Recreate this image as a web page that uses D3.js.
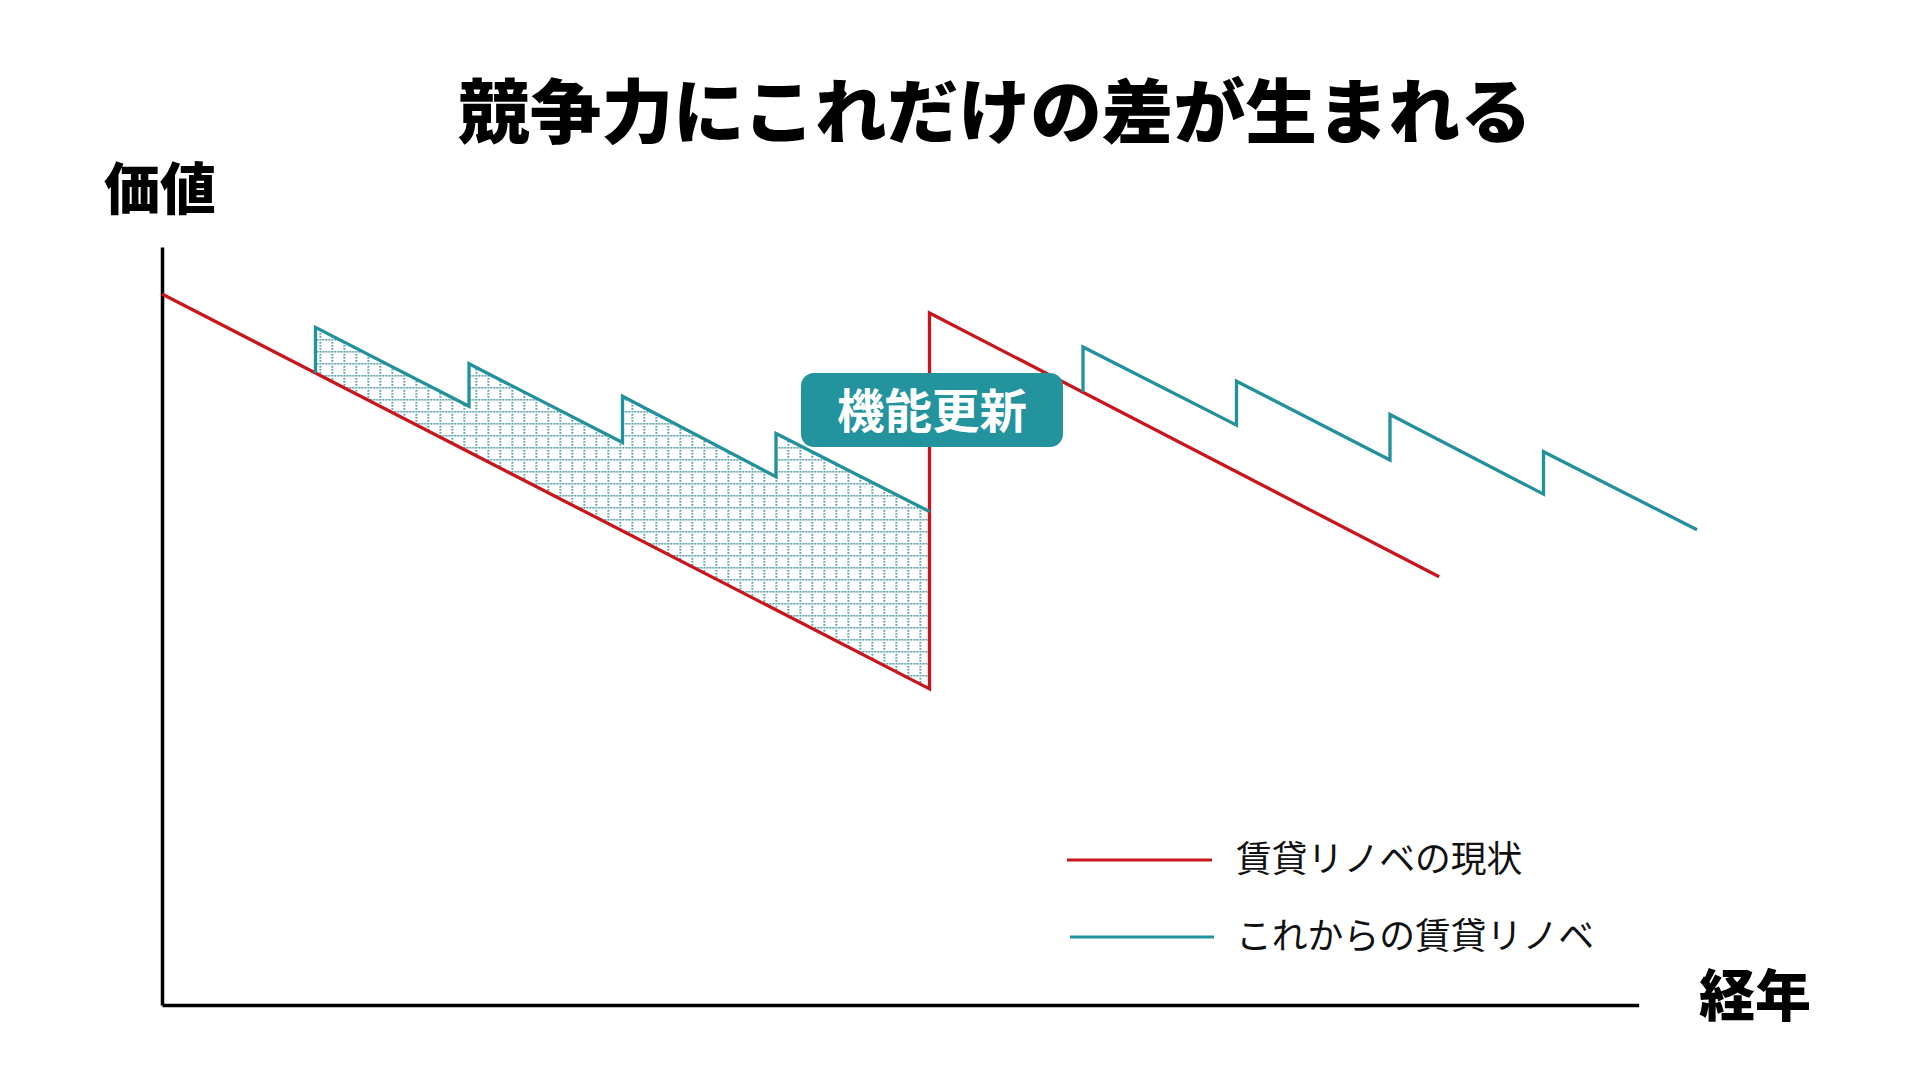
<!DOCTYPE html>
<html lang="ja">
<head>
<meta charset="utf-8">
<script src="https://cdn.jsdelivr.net/npm/d3@7"></script>
<style>
  html, body { margin: 0; padding: 0; background: #ffffff; }
  svg { display: block; }
  text { font-family: "Noto Sans CJK JP", "Noto Sans", sans-serif; }
</style>
</head>
<body>
<svg id="chart" width="1910" height="1066"></svg>
<script>
// ---- data (years vs. value index) ----
const titleText = "競争力にこれだけの差が生まれる";
const yLabel = "価値";
const xLabel = "経年";
const calloutText = "機能更新";
const seriesNames = ["賃貸リノベの現状", "これからの賃貸リノベ"];
const seriesColors = ["#c8161d", "#22919b"];

// 賃貸リノベの現状 (red)
const redX = [0, 25, 25, 41.6];
const redY = [93.8, 41.7, 91.3, 56.5];

// これからの賃貸リノベ (teal), two saw-tooth runs
const tealLeftX = [5, 5, 10, 10, 15, 15, 20, 20, 25];
const tealLeftY = [83.4, 89.4, 79.0, 84.6, 74.2, 80.3, 69.7, 75.4, 65.1];
const tealRightX = [30, 30, 35, 35, 40, 40, 45, 45, 50];
const tealRightY = [80.9, 86.8, 76.5, 82.3, 71.9, 77.9, 67.4, 73.0, 62.7];

// axis extents
const xDomain = [0, 50];
const yDomain = [0, 100];
const xAxisEnd = 48.1;

// ---- drawing ----
const svg = d3.select("#chart");
const x = d3.scaleLinear().domain(xDomain).range([162, 1697]);
const y = d3.scaleLinear().domain(yDomain).range([1005, 247]);

const zip = (xs, ys) => xs.map((v, i) => ({ x: v, y: ys[i] }));
const red = zip(redX, redY);
const tealL = zip(tealLeftX, tealLeftY);
const tealR = zip(tealRightX, tealRightY);

const line = d3.line().x(d => x(d.x)).y(d => y(d.y));

// dotted grid pattern
const defs = svg.append("defs");
const pat = defs.append("pattern")
  .attr("id", "dotgrid")
  .attr("patternUnits", "userSpaceOnUse")
  .attr("width", 12).attr("height", 12)
  .attr("x", x(5) + 4).attr("y", 3);
const dots = [];
for (let i = 0; i < 4; i++) { dots.push([i * 3, 0]); }
for (let i = 1; i < 4; i++) { dots.push([0, i * 3]); }
pat.selectAll("rect").data(dots).join("rect")
  .attr("x", d => d[0]).attr("y", d => d[1])
  .attr("width", 1.6).attr("height", 1.6)
  .attr("fill", "#2c8a96");

// fill region between the teal saw-tooth and the red line (x = 5..25)
const fillPoly = tealL.concat([red[1]]);
svg.append("path")
  .attr("d", line(fillPoly) + "Z")
  .attr("fill", "url(#dotgrid)")
  .attr("stroke", "none");

// axes (no ticks)
const xAxisScale = d3.scaleLinear().domain([0, xAxisEnd]).range([x(0), x(xAxisEnd)]);
svg.append("g")
  .attr("transform", `translate(0,${y(0)})`)
  .call(d3.axisBottom(xAxisScale).tickValues([]).tickSizeOuter(0))
  .call(g => g.select(".domain").attr("stroke", "#000").attr("stroke-width", 3.5));
svg.append("g")
  .attr("transform", `translate(${x(0)},0)`)
  .call(d3.axisLeft(y).tickValues([]).tickSizeOuter(0))
  .call(g => g.select(".domain").attr("stroke", "#000").attr("stroke-width", 3.5));

// series lines
svg.append("path").attr("d", line(red))
  .attr("fill", "none").attr("stroke", seriesColors[0])
  .attr("stroke-width", 3.3).attr("stroke-linejoin", "miter");
[tealL, tealR].forEach(s => {
  svg.append("path").attr("d", line(s))
    .attr("fill", "none").attr("stroke", seriesColors[1])
    .attr("stroke-width", 3.3).attr("stroke-linejoin", "miter");
});

// callout box
svg.append("rect")
  .attr("x", 801).attr("y", 373).attr("width", 262).attr("height", 74)
  .attr("rx", 13).attr("ry", 13)
  .attr("fill", "#23949e");
svg.append("text")
  .attr("x", 932).attr("y", 428)
  .attr("text-anchor", "middle")
  .attr("font-size", 47).attr("font-weight", 700)
  .attr("textLength", 190).attr("lengthAdjust", "spacingAndGlyphs")
  .attr("fill", "#ffffff")
  .text(calloutText);

// title
svg.append("text")
  .attr("x", 995).attr("y", 138)
  .attr("text-anchor", "middle")
  .attr("font-size", 70).attr("font-weight", 900)
  .attr("textLength", 1074).attr("lengthAdjust", "spacingAndGlyphs")
  .attr("fill", "#000")
  .text(titleText);

// axis labels
svg.append("text")
  .attr("x", 104).attr("y", 209)
  .attr("font-size", 56).attr("font-weight", 900)
  .attr("fill", "#000")
  .text(yLabel);
svg.append("text")
  .attr("x", 1699).attr("y", 1016)
  .attr("font-size", 56).attr("font-weight", 900)
  .attr("fill", "#000")
  .text(xLabel);

// legend
const legendRows = [
  { name: seriesNames[0], color: seriesColors[0], x1: 1067, x2: 1212, ly: 860 },
  { name: seriesNames[1], color: seriesColors[1], x1: 1070, x2: 1214, ly: 937 }
];
const lg = svg.append("g");
lg.selectAll("line").data(legendRows).join("line")
  .attr("x1", d => d.x1).attr("x2", d => d.x2)
  .attr("y1", d => d.ly).attr("y2", d => d.ly)
  .attr("stroke", d => d.color).attr("stroke-width", 3.2);
lg.selectAll("text").data(legendRows).join("text")
  .attr("x", 1236).attr("y", d => d.ly + 12)
  .attr("font-size", 35.8)
  .attr("fill", "#111")
  .text(d => d.name);
</script>
</body>
</html>
